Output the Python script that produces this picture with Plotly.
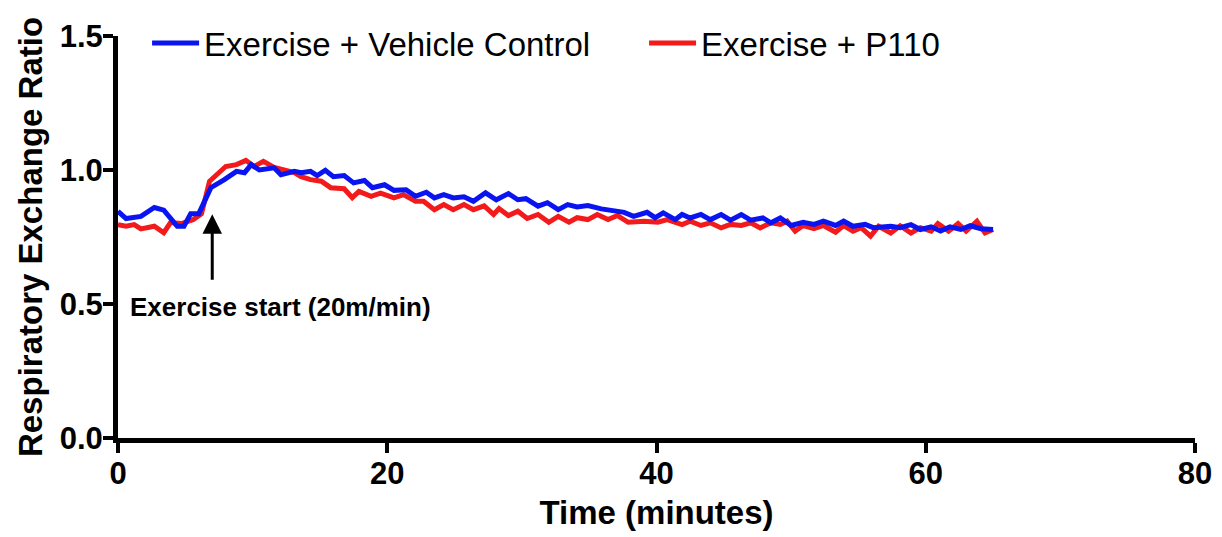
import plotly.graph_objects as go

# ---- data ----
time_vehicle = [0, 0.6, 1.7, 2.7, 3.4, 4.4, 4.9, 5.4, 6.0, 6.9, 7.9, 8.8, 9.4, 9.9, 10.5,
                11.6, 12.1, 13.1, 13.6, 14.3, 14.8, 15.4, 16.0, 16.8, 17.5, 18.3, 18.9,
                19.8, 20.5, 21.4, 22.1, 22.9, 23.5, 24.2, 24.9, 25.7, 26.4, 27.3, 28.1,
                29.0, 29.7, 30.3, 31.2, 31.9, 32.7, 33.4, 34.1, 34.9, 35.9, 36.8, 37.6,
                38.3, 39.3, 39.9, 40.5, 41.4, 41.9, 42.5, 43.3, 44.0, 44.8, 45.5, 46.3,
                47.0, 47.9, 48.5, 49.2, 50.0, 50.9, 51.7, 52.4, 53.3, 53.9, 54.6, 55.5,
                56.1, 56.5, 57.4, 58.1, 58.9, 59.6, 60.4, 61.1, 61.8, 62.6, 63.3, 64.1,
                65.0]
rer_vehicle = [0.846, 0.819, 0.827, 0.860, 0.850, 0.790, 0.790, 0.837, 0.837, 0.934, 0.964,
               0.995, 0.990, 1.020, 1.000, 1.008, 0.982, 0.995, 0.990, 0.995, 0.979, 0.999,
               0.975, 0.979, 0.952, 0.961, 0.934, 0.945, 0.924, 0.926, 0.902, 0.917, 0.896,
               0.908, 0.896, 0.900, 0.883, 0.915, 0.889, 0.912, 0.889, 0.893, 0.865, 0.878,
               0.852, 0.871, 0.862, 0.867, 0.855, 0.850, 0.842, 0.827, 0.842, 0.822, 0.840,
               0.815, 0.834, 0.821, 0.834, 0.815, 0.834, 0.813, 0.834, 0.813, 0.821, 0.803,
               0.821, 0.793, 0.805, 0.797, 0.809, 0.793, 0.809, 0.790, 0.797, 0.785, 0.788,
               0.790, 0.785, 0.796, 0.778, 0.788, 0.772, 0.788, 0.778, 0.792, 0.781, 0.778]

time_p110 = [0, 0.6, 1.2, 1.7, 2.7, 3.4, 3.9, 4.7, 5.6, 6.2, 6.8, 8.0, 8.8, 9.5, 10.1,
             10.8, 11.6, 12.3, 13.1, 13.6, 14.3, 15.1, 15.8, 16.8, 17.4, 17.9, 18.8, 19.5,
             20.5, 21.2, 22.1, 22.7, 23.5, 24.2, 24.9, 25.7, 26.4, 27.2, 27.9, 28.3, 29.0,
             29.7, 30.4, 31.2, 32.0, 32.7, 33.5, 34.1, 34.9, 35.6, 36.4, 37.1, 37.9, 39.1,
             40.1, 40.8, 41.9, 42.5, 43.3, 44.0, 44.8, 45.5, 46.3, 47.0, 47.7, 48.5, 49.2,
             49.7, 50.3, 50.9, 51.7, 52.4, 53.3, 53.9, 54.6, 55.2, 55.9, 56.5, 57.4, 58.1,
             58.9, 59.6, 60.4, 60.9, 61.7, 62.4, 63.0, 63.8, 64.4, 65.0]
rer_p110 = [0.796, 0.790, 0.796, 0.780, 0.790, 0.766, 0.804, 0.800, 0.815, 0.837, 0.958,
            1.013, 1.020, 1.036, 1.013, 1.032, 1.010, 1.000, 0.990, 0.975, 0.964, 0.958,
            0.934, 0.930, 0.897, 0.920, 0.902, 0.914, 0.896, 0.908, 0.883, 0.883, 0.852,
            0.871, 0.852, 0.871, 0.852, 0.866, 0.834, 0.856, 0.830, 0.846, 0.819, 0.834,
            0.805, 0.827, 0.805, 0.822, 0.815, 0.834, 0.815, 0.830, 0.805, 0.809, 0.805,
            0.815, 0.796, 0.809, 0.793, 0.803, 0.784, 0.797, 0.793, 0.803, 0.784, 0.803,
            0.797, 0.809, 0.772, 0.793, 0.781, 0.793, 0.768, 0.793, 0.772, 0.785, 0.753,
            0.790, 0.765, 0.792, 0.765, 0.785, 0.772, 0.800, 0.772, 0.800, 0.772, 0.809,
            0.765, 0.778]

x_ticks = [0, 20, 40, 60, 80]
y_ticks = [0.0, 0.5, 1.0, 1.5]

series_names = ["Exercise + Vehicle Control", "Exercise + P110"]
annotation_text = "Exercise start (20m/min)"
exercise_start = 7.0

FONT = "Liberation Sans, Arial, Helvetica, sans-serif"
BOLD = dict(family=FONT, color="black", weight="bold")

# the page body adds an 8px offset, so the figure is sized to the visible area
FIG_W, FIG_H = 1214, 529

fig = go.Figure()
fig.add_trace(go.Scatter(x=time_p110, y=rer_p110, mode="lines", name=series_names[1],
                         line=dict(color="#F21A1A", width=5), legendrank=2))
fig.add_trace(go.Scatter(x=time_vehicle, y=rer_vehicle, mode="lines", name=series_names[0],
                         line=dict(color="#0A14F0", width=5), legendrank=1))

fig.add_annotation(x=exercise_start, y=0.835, ax=exercise_start, ay=0.585,
                   xref="x", yref="y", axref="x", ayref="y", text="",
                   showarrow=True, arrowhead=2, arrowsize=1.3, arrowwidth=3,
                   arrowcolor="black", standoff=0)
fig.add_annotation(x=12.1, y=0.49, xref="x", yref="y", text=annotation_text,
                   showarrow=False, font=dict(**BOLD, size=26),
                   xanchor="center", yanchor="middle")

fig.update_layout(
    width=FIG_W, height=FIG_H,
    margin=dict(l=110, r=27, t=28, b=99, autoexpand=False),
    paper_bgcolor="white", plot_bgcolor="white",
    font=dict(family=FONT, color="black"),
    showlegend=True,
    legend=dict(orientation="h", x=0.027, xanchor="left",
                yref="container", y=1 - 35 / FIG_H, yanchor="middle",
                font=dict(family=FONT, size=33, color="black"),
                itemwidth=47,
                entrywidth=435, entrywidthmode="pixels",
                bgcolor="rgba(0,0,0,0)"),
    xaxis=dict(range=[0, 80], tickvals=x_ticks, showgrid=False, zeroline=False,
               showline=True, linewidth=5, linecolor="black", automargin=False,
               ticks="outside", ticklen=10, tickwidth=4, tickcolor="black",
               ticklabelstandoff=-6,
               tickfont=dict(**BOLD, size=31),
               title=dict(text="Time (minutes)", standoff=12,
                          font=dict(**BOLD, size=33))),
    yaxis=dict(range=[0, 1.5], tickvals=y_ticks, tickformat=".1f", showgrid=False,
               zeroline=False, showline=True, linewidth=5, linecolor="black",
               automargin=False,
               ticks="outside", ticklen=10, tickwidth=4, tickcolor="black",
               ticklabelstandoff=-6,
               tickfont=dict(**BOLD, size=31),
               title=dict(text="Respiratory Exchange Ratio", standoff=9,
                          font=dict(**BOLD, size=33))),
)

assert len(time_vehicle) == len(rer_vehicle), (len(time_vehicle), len(rer_vehicle))
assert len(time_p110) == len(rer_p110), (len(time_p110), len(rer_p110))

fig.write_html("out.html")
